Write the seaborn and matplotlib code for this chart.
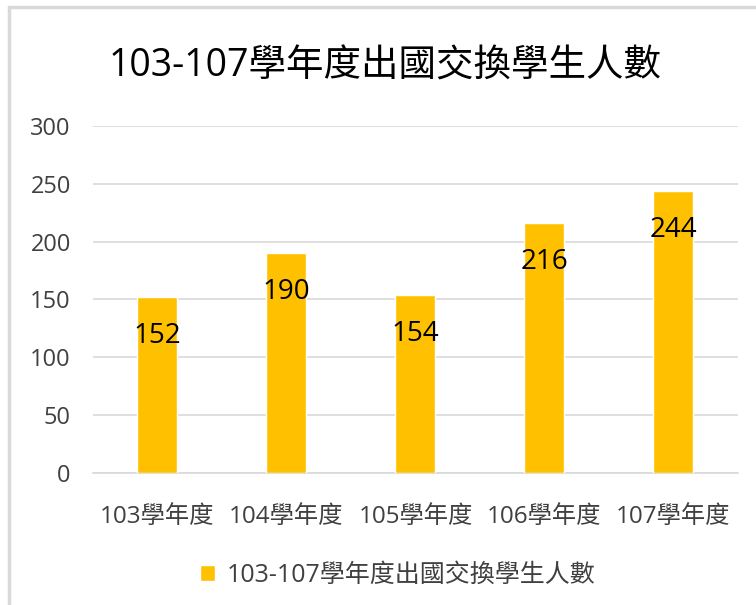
import numpy as np
import pandas as pd
import matplotlib.pyplot as plt
import seaborn as sns
from matplotlib.patches import Rectangle

years = ["103學年度", "104學年度", "105學年度", "106學年度", "107學年度"]
students = [152, 190, 154, 216, 244]
series_name = "103-107學年度出國交換學生人數"

df = pd.DataFrame({"year": years, "students": students})

sns.set_style("white")
plt.rcParams['font.family'] = ['Open Sans', 'Noto Sans CJK TC', 'DejaVu Sans']

fig = plt.figure(figsize=(7.56, 6.05), dpi=100)
ax = fig.add_axes([0.123, 0.2182, 0.853, 0.5736])

sns.barplot(data=df, x="year", y="students", color="#FFC000", width=0.31,
            saturation=1, label=series_name, ax=ax, zorder=3)

ax.set_ylim(0, 300)
ax.set_yticks(np.arange(0, 301, 50))
ax.yaxis.grid(True, color="#D9D9D9", linewidth=1.2, zorder=0)
ax.set_axisbelow(True)
for s in ["top", "right", "left"]:
    ax.spines[s].set_visible(False)
ax.spines["bottom"].set_color("#D9D9D9")
ax.spines["bottom"].set_linewidth(1.2)
ax.tick_params(axis="y", length=0, pad=16, labelsize=17, labelcolor="#404040")
ax.tick_params(axis="x", length=0, pad=23, labelsize=17.5, labelcolor="#404040")
ax.set_xlabel("")
ax.set_ylabel("")

for i, v in enumerate(students):
    ax.annotate(str(v), xy=(i, v), xytext=(0, -28), textcoords="offset points",
                ha="center", va="center", fontsize=20, color="black", zorder=4)

fig.text(0.51, 1 - 67 / 605, series_name, ha="center", va="center",
         fontsize=27, color="black")

fig.legend(loc="center", bbox_to_anchor=(0.526, 1 - 575 / 605), frameon=False,
           fontsize=18, handlelength=0.6, handleheight=0.6, handletextpad=0.45,
           labelcolor="#404040")
if ax.legend_:
    ax.legend_.remove()

fig.patches.append(Rectangle((9 / 756, -0.05), 1.1, 1 - 7 / 605 + 0.05,
                             transform=fig.transFigure, fill=False,
                             edgecolor="#D9D9D9", linewidth=2.5))

fig.savefig("out.png", dpi=100)
